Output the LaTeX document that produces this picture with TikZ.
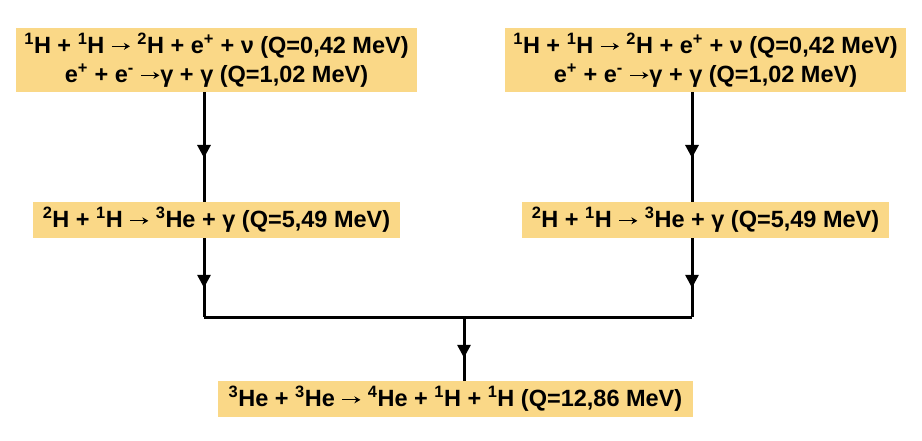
\documentclass[tikz,border=0pt]{standalone}
\usepackage{fontspec}
\setmainfont{Liberation Sans}
\usetikzlibrary{arrows.meta,decorations.markings}
\definecolor{boxfill}{RGB}{250,216,135}
\newcommand{\su}[1]{\textsuperscript{#1}}
\newcommand{\ra}{\tikz[baseline=0pt]{\path (0,0) (20pt,0); \draw[line width=1.3pt,-{Stealth[length=6pt,width=7pt]}] (1pt,7pt) -- (19pt,7pt);}}
\tikzset{
  rbox/.style={fill=boxfill, inner sep=0pt, align=center, font=\fontsize{23.5}{29}\selectfont\bfseries},
  conn/.style={line width=3pt},
  midarrow/.style={postaction={decorate, decoration={markings, mark=at position #1 with {\arrow{Triangle[length=13pt,width=13pt]}}}}}
}
\begin{document}
\begin{tikzpicture}[x=1pt,y=-1pt]
\useasboundingbox (0,0) rectangle (922,441);
\node[rbox, minimum width=401, minimum height=64] (tl) at (216.5,60)
  {\su{1}H + \su{1}H \ra{} \su{2}H + e\su{+} + ν (Q=0,42 MeV)\\e\su{+} + e\su{-} \ra{}γ + γ (Q=1,02 MeV)};
\node[rbox, minimum width=401, minimum height=64] (tr) at (705.5,60)
  {\su{1}H + \su{1}H \ra{} \su{2}H + e\su{+} + ν (Q=0,42 MeV)\\e\su{+} + e\su{-} \ra{}γ + γ (Q=1,02 MeV)};
\node[rbox, minimum width=367, minimum height=36] (ml) at (216.5,220)
  {\su{2}H + \su{1}H \ra{} \su{3}He + γ (Q=5,49 MeV)};
\node[rbox, minimum width=367, minimum height=36] (mr) at (705.5,220)
  {\su{2}H + \su{1}H \ra{} \su{3}He + γ (Q=5,49 MeV)};
\node[rbox, minimum width=475, minimum height=36] (bt) at (455.5,399)
  {\su{3}He + \su{3}He \ra{} \su{4}He + \su{1}H + \su{1}H (Q=12,86 MeV)};
\coordinate (lx) at (204,0);
\coordinate (rx) at (692,0);
\coordinate (cx) at (464,0);
\coordinate (jl) at (204,317);
\coordinate (jr) at (692,317);
\coordinate (jc) at (464,317);
\draw[conn, midarrow=0.6] (tl.south -| lx) -- (ml.north -| lx);
\draw[conn, midarrow=0.6] (tr.south -| rx) -- (mr.north -| rx);
\draw[conn, midarrow=0.63] (ml.south -| lx) -- (jl);
\draw[conn, midarrow=0.63] (mr.south -| rx) -- (jr);
\draw[conn] (jl) -- (jr);
\draw[conn, midarrow=0.64] (jc) -- (bt.north -| cx);
\end{tikzpicture}
\end{document}
